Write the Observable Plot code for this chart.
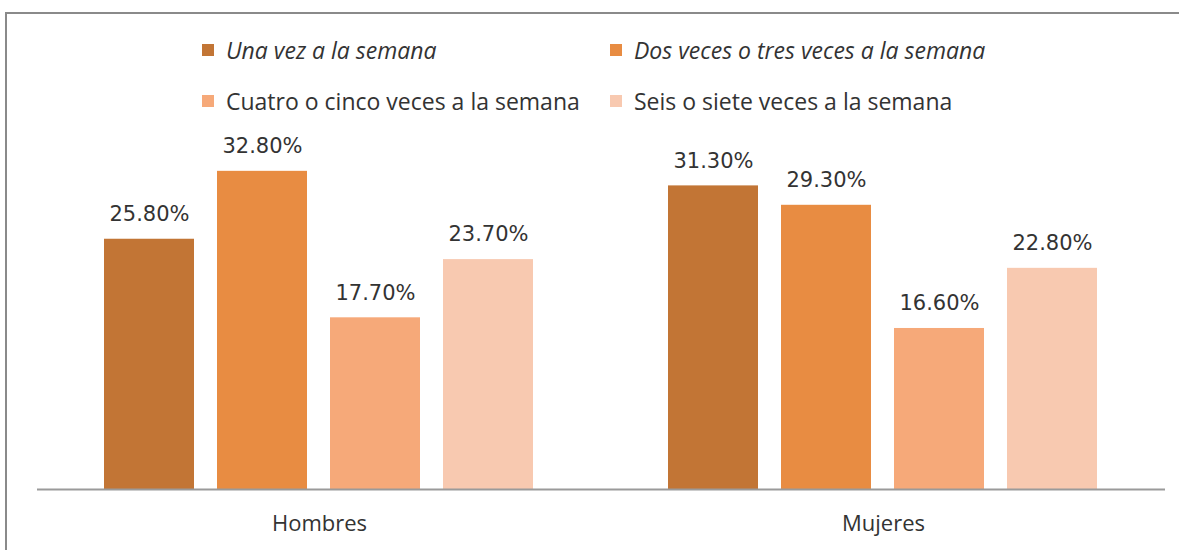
<!DOCTYPE html>
<html>
<head>
<meta charset="utf-8">
<script src="https://cdn.jsdelivr.net/npm/d3@7"></script>
<script src="https://cdn.jsdelivr.net/npm/@observablehq/plot@0.6"></script>
<style>
  html, body { margin: 0; padding: 0; background: #fff; }
  #wrap { position: relative; width: 1179px; height: 550px; overflow: hidden; }
  #frame { position: absolute; left: 5px; top: 12px; width: 1200px; height: 600px;
           border-left: 2px solid #8a8a8a; border-top: 2px solid #8a8a8a; box-sizing: border-box; }
  #legend { position: absolute; left: 202px; top: 34px; width: 900px;
            font-family: "Open Sans", sans-serif; font-size: 23px; color: #333; }
  .item { position: absolute; display: flex; align-items: center; white-space: nowrap; }
  .sw { width: 12px; height: 12px; margin-right: 12px; }
  #chart { position: absolute; left: 0; top: 120px; }
</style>
</head>
<body>
<div id="wrap">
  <div id="frame"></div>
  <div id="legend"></div>
  <div id="chart"></div>
</div>
<script>
const groups = ["Hombres", "Mujeres"];
const series = [
  "Una vez a la semana",
  "Dos veces o tres veces a la semana",
  "Cuatro o cinco veces a la semana",
  "Seis o siete veces a la semana"
];
const hombres = [25.8, 32.8, 17.7, 23.7];
const mujeres = [31.3, 29.3, 16.6, 22.8];
const colors = ["#C27535", "#E88C42", "#F6A979", "#F8C9B0"];

const data = [];
groups.forEach((g, gi) => {
  const vals = gi === 0 ? hombres : mujeres;
  series.forEach((s, si) => data.push({group: g, series: s, value: vals[si]}));
});

// legend (HTML)
const legend = document.getElementById("legend");
const pos = [[0, 0], [408, 0], [0, 51], [408, 51]];
series.forEach((s, i) => {
  const it = document.createElement("div");
  it.className = "item";
  it.style.left = pos[i][0] + "px";
  it.style.top = pos[i][1] + "px";
  if (i < 2) it.style.fontStyle = "italic";
  const sw = document.createElement("span");
  sw.className = "sw";
  sw.style.background = colors[i];
  const t = document.createElement("span");
  t.textContent = s;
  it.appendChild(sw);
  it.appendChild(t);
  legend.appendChild(it);
});

const chart = Plot.plot({
  width: 1179,
  height: 430,
  marginLeft: 37,
  marginRight: 14,
  marginTop: 29.5,
  marginBottom: 61,
  style: {fontFamily: "DejaVu Sans, sans-serif", background: "transparent"},
  fx: {domain: groups, padding: 0, label: null, axis: null},
  x: {domain: series, paddingInner: 0.2, paddingOuter: 0.59, axis: null},
  y: {domain: [0, 35], axis: null},
  color: {domain: series, range: colors},
  marks: [
    Plot.barY(data, {fx: "group", x: "series", y: "value", fill: "series"}),
    Plot.text(data, {fx: "group", x: "series", y: "value", text: d => d.value.toFixed(2) + "%",
      dy: -25, fontSize: 21, fill: "#333", textAnchor: "middle", fontFamily: "DejaVu Sans"}),
    Plot.ruleY([0], {stroke: "#9a9a9a", strokeWidth: 2}),
    Plot.text(groups, {fx: d => d, frameAnchor: "bottom", dy: 41, text: d => d,
      fontSize: 22, fill: "#333", fontFamily: "Open Sans, sans-serif"})
  ]
});
document.getElementById("chart").appendChild(chart);
</script>
</body>
</html>
